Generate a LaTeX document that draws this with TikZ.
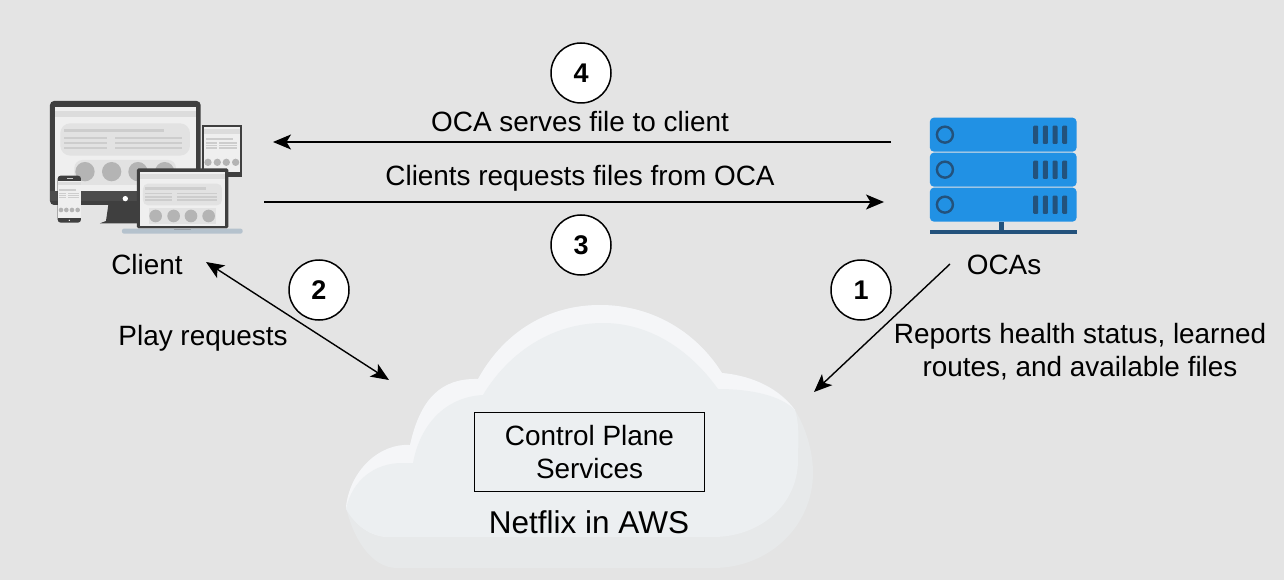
\documentclass[tikz,border=0pt]{standalone}
\usepackage{fontspec}
\setmainfont{Liberation Sans}
\usetikzlibrary{arrows.meta}
\definecolor{bg}{HTML}{E4E4E4}
\definecolor{cloudrim}{HTML}{E7E9EA}
\definecolor{cloudhi}{HTML}{F5F6F8}
\definecolor{cloudface}{HTML}{ECEFF1}
\definecolor{srvblue}{HTML}{2191E4}
\definecolor{srvdark}{HTML}{23527C}
\definecolor{dk}{HTML}{3F3F3F}
\definecolor{dkb}{HTML}{4B4B4B}
\definecolor{scr}{HTML}{EFEFEF}
\definecolor{panel}{HTML}{E2E2E2}
\definecolor{ln}{HTML}{CDCDCD}
\definecolor{dot}{HTML}{B4B4B4}
\definecolor{lapbase}{HTML}{B5C2CD}
\definecolor{lapnotch}{HTML}{98A0A8}
\tikzset{
  lbl/.style={font=\fontsize{27.9}{33}\selectfont, align=center, inner sep=0pt, text=black},
  num/.style={circle, draw=black, line width=1.5pt, fill=white, minimum size=60pt, inner sep=0pt, font=\fontsize{27}{32}\selectfont\bfseries},
  conn/.style={draw=black, line width=1.4pt, -{Stealth[length=18pt,width=15pt,inset=4.5pt]}},
  conn2/.style={draw=black, line width=1.4pt, {Stealth[length=18pt,width=15pt,inset=4.5pt]}-{Stealth[length=18pt,width=15pt,inset=4.5pt]}},
  zm/.style={x=0.3333pt,y=-0.3333pt},
}
\begin{document}
\begin{tikzpicture}[x=1pt,y=-1pt]
\useasboundingbox (0,0) rectangle (1284,580);
\fill[bg] (0,0) rectangle (1284,580);
% cloud
\fill[cloudrim] (346,507) .. controls (350,470) and (380,443) .. (410,445)
  .. controls (420,400) and (440,378) .. (478,379)
  .. controls (505,330) and (550,305) .. (600,305)
  .. controls (650,305) and (695,330) .. (722,373)
  .. controls (755,376) and (780,390) .. (793,407)
  .. controls (805,425) and (813,450) .. (813,473)
  .. controls (813,525) and (770,568) .. (713,568)
  -- (397,568) .. controls (370,568) and (352,535) .. (346,507) -- cycle;
\fill[cloudhi] (346,507) .. controls (350,470) and (380,443) .. (410,445)
  .. controls (420,400) and (440,378) .. (478,379)
  .. controls (505,330) and (550,305) .. (600,305)
  .. controls (650,305) and (695,330) .. (722,373)
  .. controls (755,376) and (780,390) .. (795,410)
  -- (718,500) -- (390,537) .. controls (370,537) and (355,525) .. (346,507) -- cycle;
\fill[cloudface] (346,509) .. controls (352,480) and (375,463) .. (402,463) -- (413,463)
  .. controls (420,425) and (445,397) .. (483,395)
  .. controls (510,350) and (555,323) .. (603,323)
  .. controls (650,323) and (690,350) .. (718,389)
  .. controls (750,389) and (780,395) .. (795,410)
  .. controls (800,425) and (798,445) .. (798,460)
  .. controls (798,505) and (760,537) .. (713,537)
  -- (390,537) .. controls (370,537) and (355,525) .. (346,509) -- cycle;
% client icon
\begin{scope}[zm,shift={(90,255)}]
  \fill[dk] (60,60) arc[start angle=180,end angle=270,radius=12] -- (500,48) arc[start angle=270,end angle=360,radius=12] -- (512,348) arc[start angle=0,end angle=90,radius=12] -- (72,360) arc[start angle=90,end angle=180,radius=12] -- cycle;
  \fill[dkb] (60,318) rectangle (512,348);
  \fill[scr] (76,65) rectangle (497,318);
  \fill[ln!70] (76,78) rectangle (497,96);
  \fill[panel,rounded corners=10pt] (91,115) rectangle (480,212);
  \fill[ln] (102,132) rectangle (402,141);
  \foreach \yy in {155,170,185}{\fill[ln] (102,\yy) rectangle (231,\yy+8); \fill[ln] (256,\yy) rectangle (455,\yy+8);}
  \fill[panel,rounded corners=8pt] (133,225) rectangle (438,300);
  \foreach \xx in {165,245,324,404}{\fill[dot] (\xx,260) circle[radius=29];}
  \fill[white] (286,341) circle[radius=8];
  \fill[dk] (235,360) -- (340,360) -- (340,415) -- (210,415) -- (228,408) -- cycle;
  % tablet
  \fill[dk] (516,120) rectangle (637,276);
  \fill[scr] (522,127) rectangle (631,262);
  \fill[ln!70] (522,132) rectangle (631,146);
  \fill[ln] (527,159) rectangle (608,164);
  \foreach \yy in {171,179,187}{\fill[ln] (527,\yy) rectangle (561,\yy+5); \fill[ln] (568,\yy) rectangle (622,\yy+5);}
  \foreach \xx in {534,562,589,617}{\fill[dot] (\xx,232) circle[radius=11];}
  % laptop
  \fill[dk,rounded corners=1.5pt] (321,250) rectangle (595,430);
  \fill[scr] (331,260) rectangle (585,422);
  \fill[ln!70] (331,268) rectangle (585,282);
  \fill[panel,rounded corners=5pt] (339,296) rectangle (576,361);
  \fill[ln] (346,307) rectangle (528,314);
  \foreach \yy in {323,333,343}{\fill[ln] (346,\yy) rectangle (425,\yy+5); \fill[ln] (440,\yy) rectangle (560,\yy+5);}
  \fill[panel] (357,370) rectangle (559,416);
  \foreach \xx in {377,431,483,536}{\fill[dot] (\xx,393) circle[radius=19];}
  \fill[lapbase,rounded corners=2pt] (276,431) rectangle (638,446);
  \fill[lapnotch] (432,431) rectangle (482,436);
  % phone
  \fill[dk,rounded corners=3pt] (83,272) rectangle (153,413);
  \fill[scr] (84,287) rectangle (152,400);
  \fill[ln!70] (84,290) rectangle (152,300);
  \fill[ln] (88,312) rectangle (138,317);
  \foreach \yy in {324,330,336}{\fill[ln] (88,\yy) rectangle (108,\yy+3); \fill[ln] (114,\yy) rectangle (147,\yy+3);}
  \foreach \xx in {93,109,126,143}{\fill[dot] (\xx,375) circle[radius=7];}
  \fill[white] (118,406) circle[radius=2];
  \fill[ln] (110,279) rectangle (130,282);
\end{scope}
% server icon
\begin{scope}[zm,shift={(2730,315)}]
  \foreach \yy in {38,143,248}{
    \fill[srvblue,rounded corners=4pt] (60,\yy) rectangle (500,\yy+102);
    \draw[srvdark,line width=2.4pt] (105,\yy+51) circle[radius=24];
    \foreach \xx in {370,399,428,457}{\fill[srvdark,rounded corners=1pt] (\xx,\yy+24) rectangle (\xx+15,\yy+79);}
  }
  \fill[srvdark] (268,350) rectangle (281,376);
  \fill[srvdark] (60,374) rectangle (500,386);
\end{scope}
% box and labels
\node[draw=black,line width=1.8pt,minimum width=230pt,minimum height=79pt,inner sep=0pt,lbl] (cps) at (589.5,452) {Control Plane\\[0pt]Services};
\node[lbl,font=\fontsize{31.5}{36}\selectfont] (aws) at (589,522) {Netflix in AWS};
\node[lbl] (client) at (147,265) {Client};
\node[lbl] (ocas) at (1004,265) {OCAs};
\node[lbl] (play) at (203,338) {Play requests};
\node[lbl] (rep) at (1080,352) {Reports health status, learned\\routes, and available files};
\node[lbl] (serve) at (580,122) {OCA serves file to client};
\node[lbl] (req) at (580,178) {Clients requests files from OCA};
\node[num] (n4) at (581,73) {4};
\node[num] (n3) at (581,245) {3};
\node[num] (n2) at (319,290) {2};
\node[num] (n1) at (861,290) {1};
% connector ends
\coordinate (a1s) at (950,264); \coordinate (a1e) at (814,392);
\coordinate (a2s) at (206,262); \coordinate (a2e) at (389,380);
\coordinate (a3s) at (264,202); \coordinate (a3e) at (884,202);
\coordinate (a4s) at (891,142); \coordinate (a4e) at (273,142);
\draw[conn] (a1s) -- (a1e);
\draw[conn2] (a2s) -- (a2e);
\draw[conn] (a3s) -- (a3e);
\draw[conn] (a4s) -- (a4e);
\end{tikzpicture}
\end{document}
